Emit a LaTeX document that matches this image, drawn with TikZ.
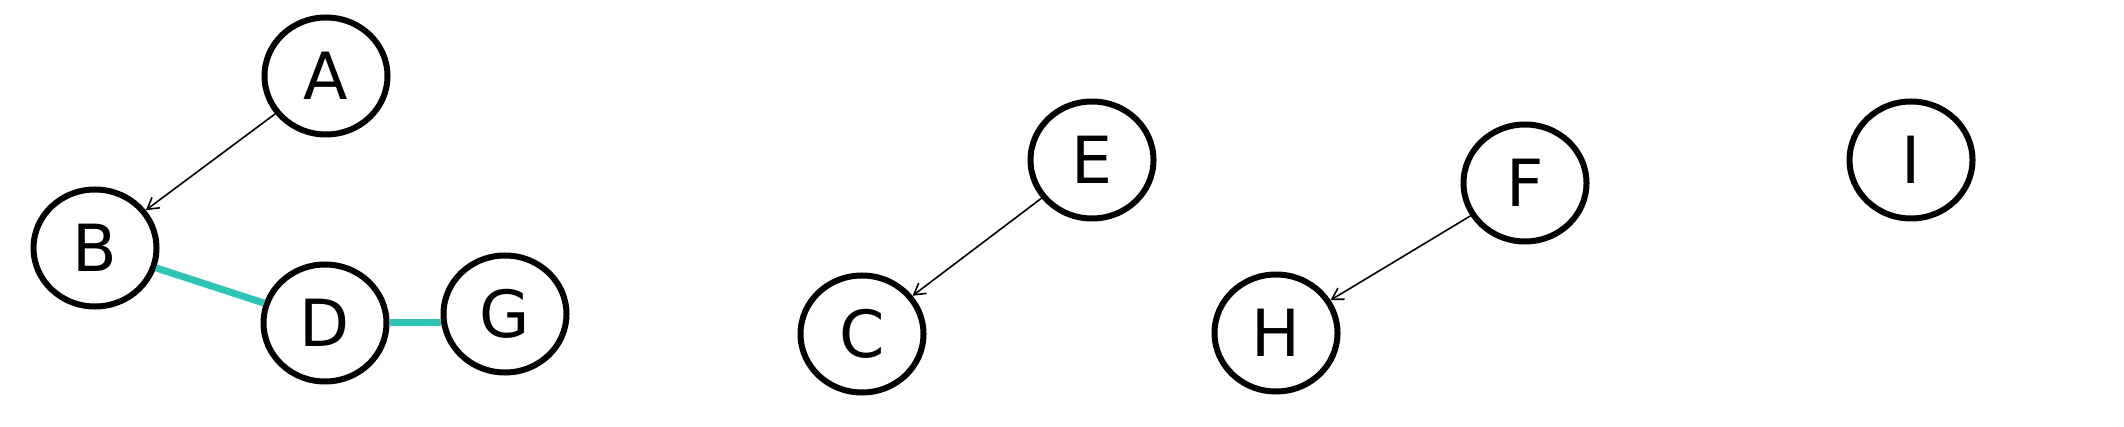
\documentclass[tikz,border=0pt]{standalone}
\usepackage{fontspec}
\setmainfont{DejaVu Sans}
\usetikzlibrary{shapes.geometric,arrows.meta}
\definecolor{tealedge}{RGB}{46,196,182}
\tikzset{
  vnode/.style={draw=black, ellipse, line width=6pt, minimum width=123pt, minimum height=117pt, inner sep=0pt, font=\fontsize{65}{65}\selectfont},
  diredge/.style={line width=1.6pt, -{Straight Barb[length=11pt,width=13pt,line width=1.6pt]}},
  undedge/.style={line width=7pt, draw=tealedge}
}
\begin{document}
\begin{tikzpicture}[x=1pt,y=-1pt]
\useasboundingbox (0,0) rectangle (2124,427);
\node[vnode] (A) at (326,76) {A};
\node[vnode] (B) at (95,248) {B};
\node[vnode] (D) at (325,323) {D};
\node[vnode] (G) at (505,314) {G};
\node[vnode] (E) at (1092,160) {E};
\node[vnode] (C) at (862,334) {C};
\node[vnode] (F) at (1525,183) {F};
\node[vnode] (H) at (1276,333) {H};
\node[vnode] (I) at (1911,160) {I};
\draw[diredge] (A) -- (B);
\draw[diredge] (E) -- (C);
\draw[diredge] (F) -- (H);
\draw[undedge] (B) -- (D);
\draw[undedge] (D.east) -- (D.east -| G.west);
\end{tikzpicture}
\end{document}
